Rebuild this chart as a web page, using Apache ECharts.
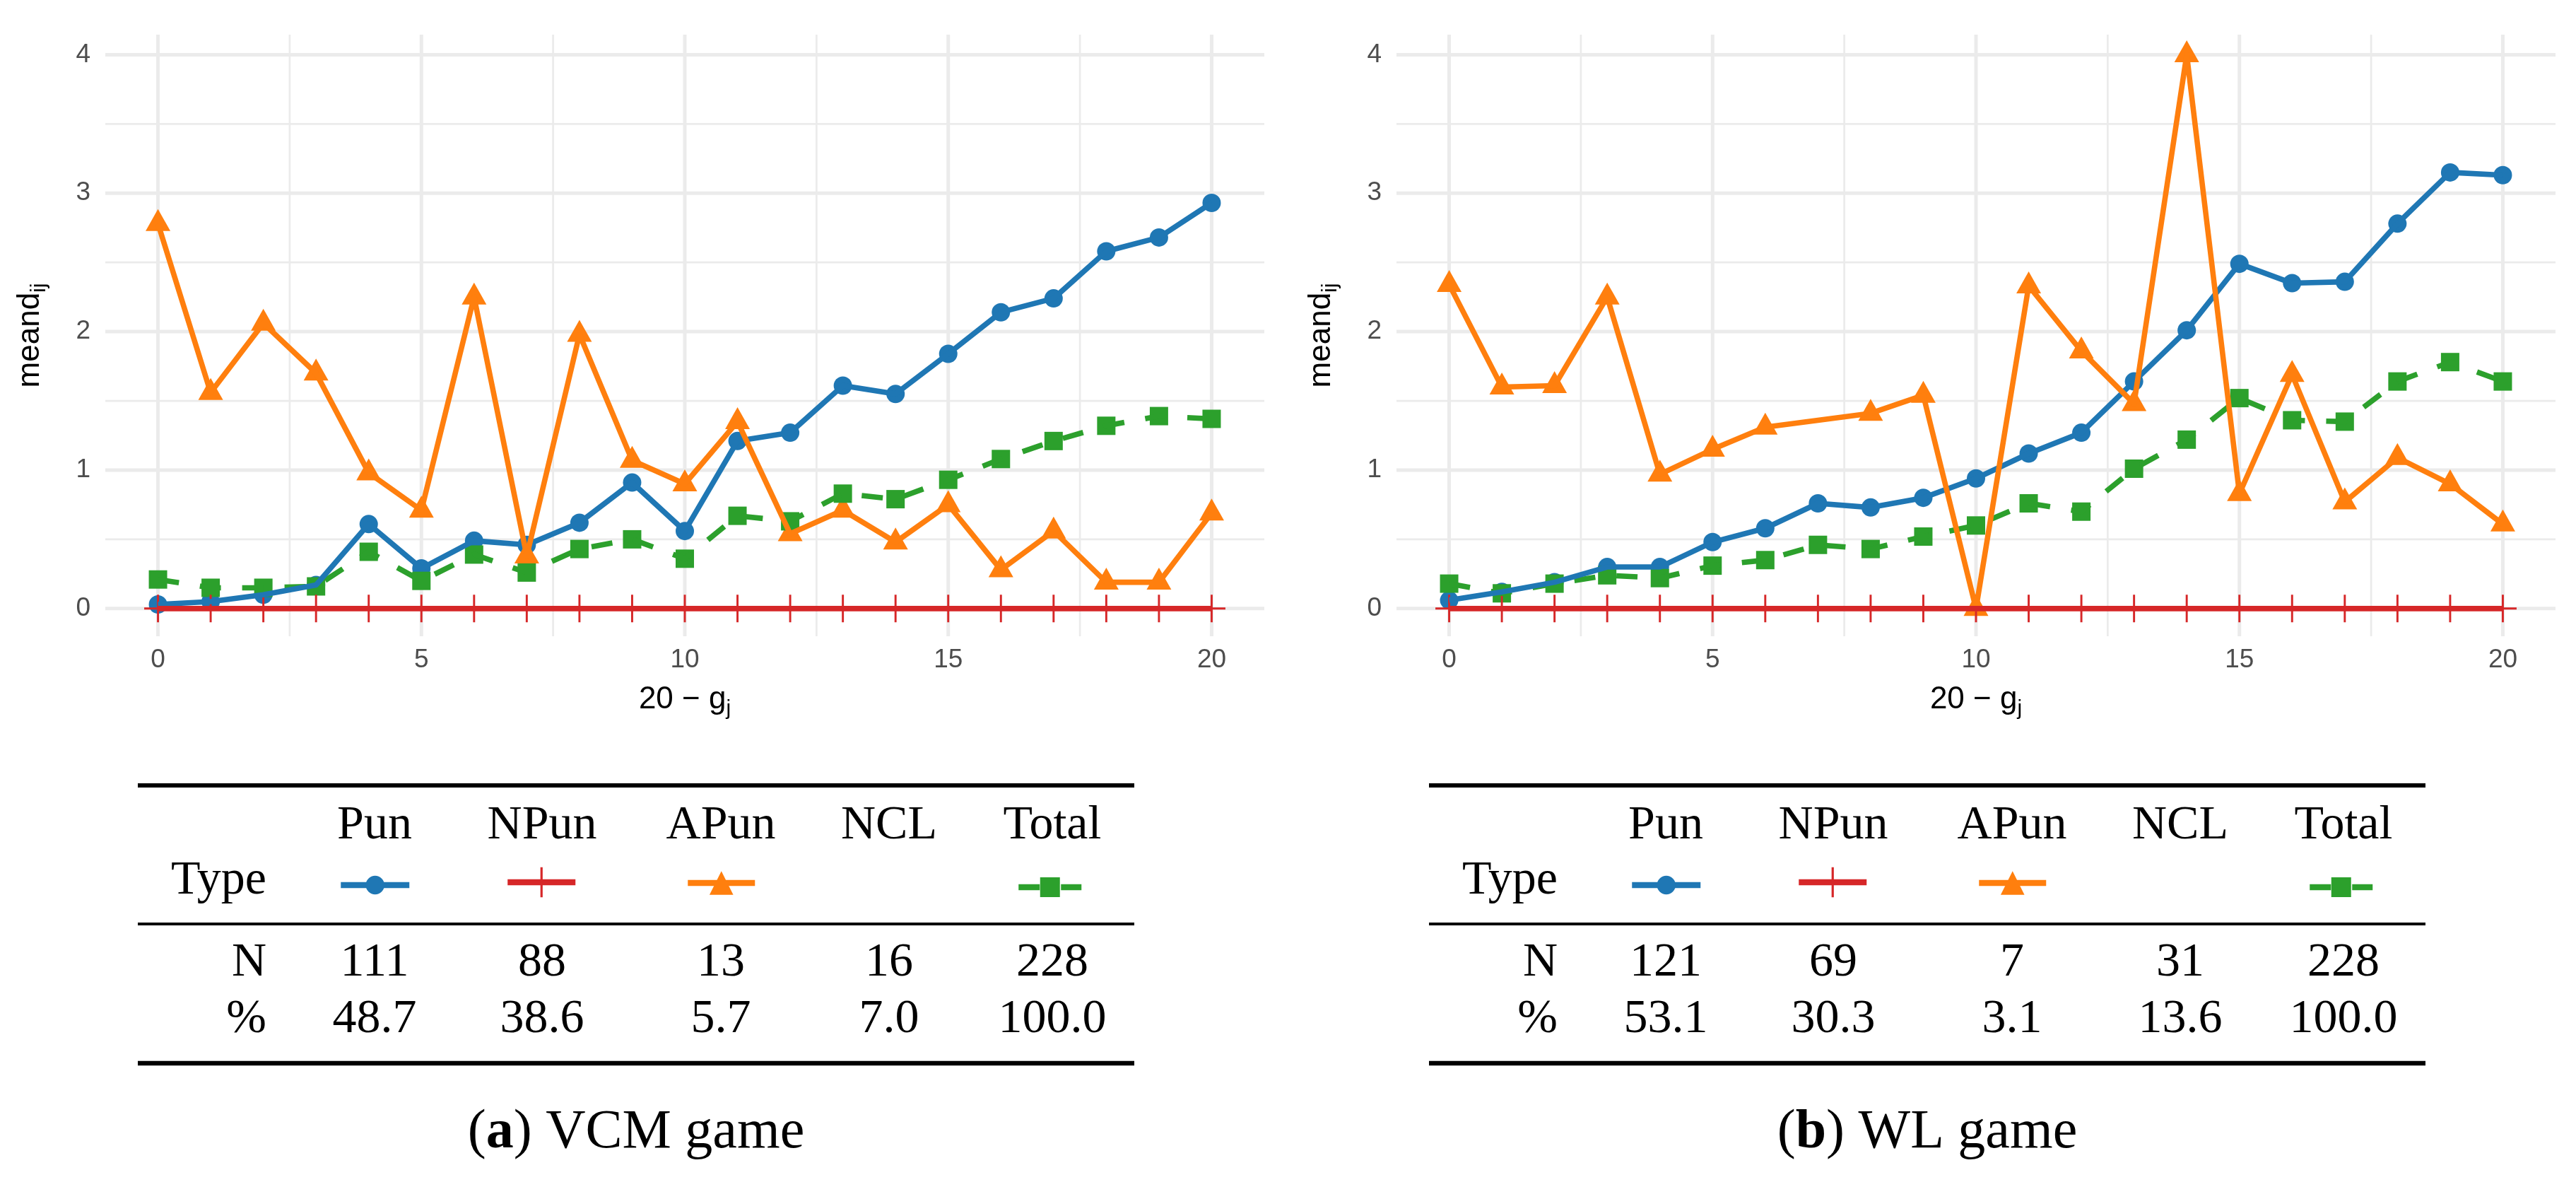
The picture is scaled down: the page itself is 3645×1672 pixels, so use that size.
<!DOCTYPE html>
<html>
<head>
<meta charset="utf-8">
<script src="https://cdn.jsdelivr.net/npm/echarts@6/dist/echarts.min.js"></script>
<style>
html,body{margin:0;padding:0;background:#ffffff;}
#c{width:3645px;height:1672px;}
</style>
</head>
<body>
<div id="c"></div>
<script>
// ---------------- data ----------------
const xValues = [0,1,2,3,4,5,6,7,8,9,10,11,12,13,14,15,16,17,18,19,20];
const xTickLabels = [0,5,10,15,20];
const yTickLabels = [0,1,2,3,4];
const xMinorBreaks = [2.5,7.5,12.5,17.5];
const yMinorBreaks = [0.5,1.5,2.5,3.5];

// (a) VCM game
const vcmPun   = [0.03,0.05,0.10,0.17,0.61,0.29,0.49,0.46,0.62,0.91,0.56,1.21,1.27,1.61,1.55,1.84,2.14,2.24,2.58,2.68,2.93];
const vcmNPun  = [0,0,0,0,0,0,0,0,0,0,0,0,0,0,0,0,0,0,0,0,0];
const vcmAPun  = [2.78,1.56,2.06,1.70,0.98,0.71,2.25,0.38,1.98,1.07,0.90,1.35,0.54,0.71,0.48,0.75,0.28,0.56,0.19,0.19,0.69];
const vcmTotal = [0.21,0.15,0.15,0.16,0.41,0.20,0.39,0.26,0.43,0.50,0.36,0.67,0.63,0.83,0.79,0.93,1.08,1.21,1.32,1.39,1.37];

// (b) WL game
const wlPun   = [0.06,0.12,0.19,0.30,0.30,0.48,0.58,0.76,0.73,0.80,0.94,1.12,1.27,1.64,2.01,2.49,2.35,2.36,2.78,3.15,3.13];
const wlNPun  = [0,0,0,0,0,0,0,0,0,0,0,0,0,0,0,0,0,0,0,0,0];
const wlAPun  = [2.34,1.60,1.61,2.25,0.97,1.15,1.31,null,1.41,1.54,0.00,2.33,1.86,1.48,4.00,0.83,1.69,0.77,1.09,0.90,0.61];
const wlTotal = [0.18,0.11,0.18,0.24,0.22,0.31,0.35,0.46,0.43,0.52,0.60,0.76,0.70,1.01,1.22,1.52,1.36,1.35,1.64,1.78,1.64];

// tables
const typeNames = ['Pun','NPun','APun','NCL','Total'];
const vcmN   = ['111','88','13','16','228'];
const vcmPct = ['48.7','38.6','5.7','7.0','100.0'];
const wlN    = ['121','69','7','31','228'];
const wlPct  = ['53.1','30.3','3.1','13.6','100.0'];
const captionLetters = ['a','b'];
const captionTexts = ['VCM game','WL game'];

// ---------------- layout / style ----------------
const SANS = '"Liberation Sans", Arial, Helvetica, sans-serif';
const SERIF = '"Liberation Serif", "Times New Roman", serif';
const DX = 1827;
const COLORS = {Pun:'#1f77b4', NPun:'#d62728', APun:'#ff7f0e', Total:'#2ca02c'};
const PLUS = 'path://M18.5,0h3v40h-3z M0,18.5h40v3h-40z';
const SYMBOL = {Pun:'circle', NPun:PLUS, APun:'triangle', Total:'rect'};
const SYMSIZE = {Pun:26, NPun:39, APun:[35,31], Total:26};
const SYMOFF = {Pun:[0,0], NPun:[0,0], APun:[0,-5], Total:[0,0]};
const POINT_Z = {Pun:2, APun:3, Total:4, NPun:5};
const LINE_Z = {Total:6, Pun:7, APun:8, NPun:9};
const LINE_W = 7.6;

const panels = [
  {Pun:vcmPun, NPun:vcmNPun, APun:vcmAPun, Total:vcmTotal, N:vcmN, Pct:vcmPct},
  {Pun:wlPun, NPun:wlNPun, APun:wlAPun, Total:wlTotal, N:wlN, Pct:wlPct}
];
const seriesNames = ['Pun','NPun','APun','Total'];

function pairs(ys){
  return xValues.map((x,i)=>[x, ys[i]]).filter(p=>p[1]!==null && p[1]!==undefined);
}

const grids = [], xAxes = [], yAxes = [], series = [], legends = [], graphics = [];

const nameRich = {
  n:{fontSize:44, fontFamily:SANS, color:'#000', lineHeight:56},
  s:{fontSize:30, fontFamily:SANS, color:'#000', lineHeight:30, verticalAlign:'bottom'}
};

panels.forEach((p, i) => {
  const dx = i*DX;
  grids.push({left:149+dx, top:49, width:1640, height:851, containLabel:false});
  xAxes.push({
    type:'value', gridIndex:i, min:-1, max:21,
    axisLine:{show:false}, axisTick:{show:false}, splitLine:{show:false},
    axisLabel:{customValues:xTickLabels, color:'#4d4d4d', fontSize:37, fontFamily:SANS, margin:15},
    name:'{n|20 − g}{s|j}', nameLocation:'middle', nameGap:62,
    nameTextStyle:{rich:nameRich}
  });
  yAxes.push({
    type:'value', gridIndex:i, min:-0.2, max:4.145,
    axisLine:{show:false}, axisTick:{show:false}, splitLine:{show:false},
    axisLabel:{customValues:yTickLabels, color:'#4d4d4d', fontSize:37, fontFamily:SANS, margin:21},
    name:'{n|meand}{s|ij}', nameLocation:'middle', nameRotate:90, nameGap:78,
    nameTextStyle:{rich:nameRich}
  });

  // panel grid lines drawn through the axes' scales
  const gdata = [];
  yTickLabels.forEach(v=>gdata.push([v,0,1]));
  yMinorBreaks.forEach(v=>gdata.push([v,0,0]));
  xTickLabels.forEach(v=>gdata.push([v,1,1]));
  xMinorBreaks.forEach(v=>gdata.push([v,1,0]));
  series.push({
    type:'custom', name:'grid'+i, xAxisIndex:i, yAxisIndex:i, z:1, silent:true, animation:false,
    data:gdata,
    renderItem:(params, api) => {
      const v = api.value(0), dir = api.value(1), major = api.value(2);
      const cs = params.coordSys;
      const w = major ? 5 : 2.7;
      if (dir === 0) {
        const y = api.coord([0, v])[1];
        return {type:'line', shape:{x1:cs.x, y1:y, x2:cs.x+cs.width, y2:y}, style:{stroke:'#ebebeb', lineWidth:w}};
      }
      const x = api.coord([v, 0])[0];
      return {type:'line', shape:{x1:x, y1:cs.y, x2:x, y2:cs.y+cs.height}, style:{stroke:'#ebebeb', lineWidth:w}};
    }
  });

  seriesNames.forEach(nm => {
    const d = pairs(p[nm]);
    series.push({
      type:'scatter', name:nm+'_pts'+i, xAxisIndex:i, yAxisIndex:i, data:d,
      symbol:SYMBOL[nm], symbolSize:SYMSIZE[nm], symbolOffset:SYMOFF[nm],
      itemStyle:{color:COLORS[nm], opacity:1}, z:POINT_Z[nm], silent:true, animation:false,
      emphasis:{disabled:true}
    });
    series.push({
      type:'line', name:nm, xAxisIndex:i, yAxisIndex:i, data:d,
      showSymbol:false, symbol:SYMBOL[nm], symbolSize:SYMSIZE[nm], connectNulls:true,
      lineStyle:{color:COLORS[nm], width:LINE_W, type:(nm==='Total' ? [30,30] : 'solid'), cap:'butt', join:'round'},
      itemStyle:{color:COLORS[nm]}, z:LINE_Z[nm], silent:true, animation:false,
      emphasis:{disabled:true}
    });
  });

  // table rules
  [[1111,6],[1307,4],[1504,6.4]].forEach(r => {
    graphics.push({type:'line', silent:true, shape:{x1:195+dx, y1:r[0], x2:1605+dx, y2:r[0]}, style:{stroke:'#000', lineWidth:r[1]}});
  });
  const colX = [530,767,1020,1258,1489];
  const txt = (s, x, y, align, size) => ({
    type:'text', silent:true, x:x, y:y,
    style:{text:s, fill:'#000', fontSize:size||68, fontFamily:SERIF, align:align||'center', verticalAlign:'middle'}
  });
  typeNames.forEach((t,k) => graphics.push(txt(t, colX[k]+dx, 1168)));
  graphics.push(txt('Type', 377+dx, 1246, 'right'));
  graphics.push(txt('N', 377+dx, 1362, 'right'));
  graphics.push(txt('%', 377+dx, 1442, 'right'));
  p.N.forEach((t,k) => graphics.push(txt(t, colX[k]+dx, 1362)));
  p.Pct.forEach((t,k) => graphics.push(txt(t, colX[k]+dx, 1442)));
  graphics.push({
    type:'text', silent:true, x:900+dx, y:1603,
    style:{
      text:'{n|(}{b|' + captionLetters[i] + '}{n|) ' + captionTexts[i] + '}',
      align:'center', verticalAlign:'middle', fill:'#000',
      fontSize:78, fontFamily:SERIF,
      rich:{
        n:{fontSize:78, fontFamily:SERIF, fill:'#000', color:'#000'},
        b:{fontSize:78, fontFamily:SERIF, fontWeight:'bold', fill:'#000', color:'#000'}
      }
    }
  });

  // legend keys in the table's "Type" row
  const glyphs = [
    {name:'Pun', left:478, w:97, cy:1252, h:33},
    {name:'NPun', left:714, w:96, cy:1248, h:53},
    {name:'APun', left:969, w:95, cy:1249, h:42},
    {name:'Total', left:1437, w:89, cy:1255, h:35}
  ];
  glyphs.forEach(g => {
    legends.push({
      data:[g.name], left:g.left+dx, top:g.cy - g.h/2, itemWidth:g.w, itemHeight:g.h,
      itemGap:0, padding:0, selectedMode:false, orient:'horizontal',
      formatter:function(){ return ''; }, textStyle:{fontSize:8},
      lineStyle:{width:8.5}
    });
  });
});

const chart = echarts.init(document.getElementById('c'), null, {renderer:'canvas'});
chart.setOption({
  backgroundColor:'#ffffff',
  animation:false,
  grid:grids, xAxis:xAxes, yAxis:yAxes, series:series, legend:legends,
  graphic:{elements:graphics}
});
</script>
</body>
</html>
